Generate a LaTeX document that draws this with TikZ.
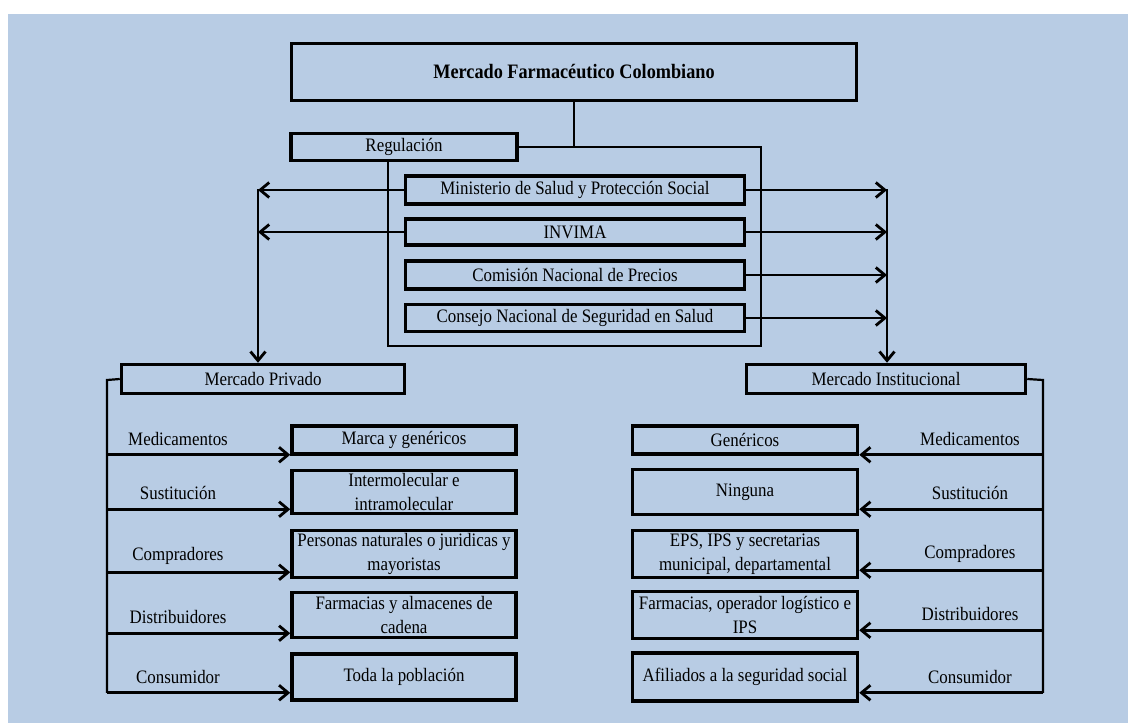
\documentclass[tikz,border=0pt]{standalone}
\usepackage{fontspec}
\setmainfont{Liberation Serif}[FakeStretch=0.89]
\usetikzlibrary{arrows.meta}

\definecolor{fondo}{HTML}{B8CCE4}

\begin{document}
\begin{tikzpicture}[
        x=1pt, y=-1pt,
        caja/.style={draw, line width=3.5pt, inner sep=0pt, align=center,
            font=\fontsize{19}{23.5}\selectfont},
        rotulo/.style={font=\fontsize{19}{23.5}\selectfont},
        enlace/.style={line width=2.2pt},
        flecha/.style={line width=2.8pt, -{Straight Barb[length=9pt,width=15pt]}}
    ]
        \useasboundingbox[fill=white] (0,0) rectangle (1128,723);
        \fill[fondo] (8,14) rectangle (1128,723);

        % cabecera y regulacion
        \node[caja, minimum width=565pt, minimum height=57pt, font=\fontsize{20.5}{23}\selectfont\bfseries]
            (titulo) at (574,72) {Mercado Farmacéutico Colombiano};
        \node[caja, minimum width=226pt, minimum height=27pt] (regul) at (404,147) {Regulación};

        \node[caja, minimum width=339pt, minimum height=28pt] (minis) at (575,190) {Ministerio de Salud y Protección Social};
        \node[caja, minimum width=339pt, minimum height=26pt] (invima) at (575,232) {INVIMA};
        \node[caja, minimum width=339pt, minimum height=28pt] (comis) at (575,275) {Comisión Nacional de Precios};
        \node[caja, minimum width=339pt, minimum height=27pt] (consejo) at (575,318) {Consejo Nacional de Seguridad en Salud};

        \coordinate (cerrSE) at (761,346);
        \coordinate (cerrSW) at (388,346);
        \draw[enlace] (titulo.south) -- (titulo.south |- regul.east);
        \draw[enlace] (regul.east) -| (cerrSE) -- (cerrSW) -- (cerrSW |- regul.south);

        % mercados
        \node[caja, minimum width=283pt, minimum height=29pt] (privado) at (263,379) {Mercado Privado};
        \node[caja, minimum width=279pt, minimum height=29pt] (instit) at (886,379) {Mercado Institucional};

        \coordinate (izq) at (258,189);
        \coordinate (der) at (887,189);
        \foreach \b in {minis,invima}{
            \draw[flecha] (\b.west) -- (\b.west -| izq);
        }
        \foreach \b in {minis,invima,comis,consejo}{
            \draw[flecha] (\b.east) -- (\b.east -| der);
        }
        \draw[flecha] (izq) -- (izq |- privado.north);
        \draw[flecha] (der) -- (der |- instit.north);

        % mercado privado
        \node[caja, minimum width=224pt, minimum height=28pt] (marca) at (404,440) {Marca y genéricos};
        \node[caja, minimum width=224pt, minimum height=43pt] (inter) at (404,492) {Intermolecular e\\intramolecular};
        \node[caja, minimum width=224pt, minimum height=47pt] (perso) at (404,554) {Personas naturales o juridicas y\\mayoristas};
        \node[caja, minimum width=224pt, minimum height=45pt] (farma) at (404,615) {Farmacias y almacenes de\\cadena};
        \node[caja, minimum width=224pt, minimum height=46pt] (toda) at (404,677) {Toda la población};

        % mercado institucional
        \node[caja, minimum width=225pt, minimum height=28pt] (gener) at (745,440) {Genéricos};
        \node[caja, minimum width=225pt, minimum height=45pt] (ning) at (745,492) {Ninguna};
        \node[caja, minimum width=225pt, minimum height=47pt] (eps) at (745,554) {EPS, IPS y secretarias\\municipal, departamental};
        \node[caja, minimum width=225pt, minimum height=47pt] (farmb) at (745,615) {Farmacias, operador logístico e\\IPS};
        \node[caja, minimum width=225pt, minimum height=48pt] (afil) at (745,677) {Afiliados a la seguridad social};

        \coordinate (ejeP) at (107,380);
        \coordinate (ejeI) at (1043,380);

        \foreach \b/\t/\d in {marca/Medicamentos/1, inter/Sustitución/6, perso/Compradores/7,
                              farma/Distribuidores/6, toda/Consumidor/9}{
            \path ([yshift=\d pt]\b.south west) coordinate (p\b);
            \draw[flecha] (ejeP |- p\b) -- (p\b);
            \node[rotulo] (l\b) at ([yshift=16pt]ejeP |- p\b) [xshift=71pt] {\t};
        }
        \foreach \b/\t/\d in {gener/Medicamentos/1, ning/Sustitución/7, eps/Compradores/9,
                              farmb/Distribuidores/10, afil/Consumidor/10}{
            \path ([yshift=\d pt]\b.south east) coordinate (p\b);
            \draw[flecha] (ejeI |- p\b) -- (p\b);
            \node[rotulo] (l\b) at ([yshift=16pt]ejeI |- p\b) [xshift=-73pt] {\t};
        }
        \draw[enlace] (privado.west) -- (ejeP) -- (ejeP |- ptoda);
        \draw[enlace] (instit.east) -- (ejeI) -- (ejeI |- pafil);
    \end{tikzpicture}
\end{document}
